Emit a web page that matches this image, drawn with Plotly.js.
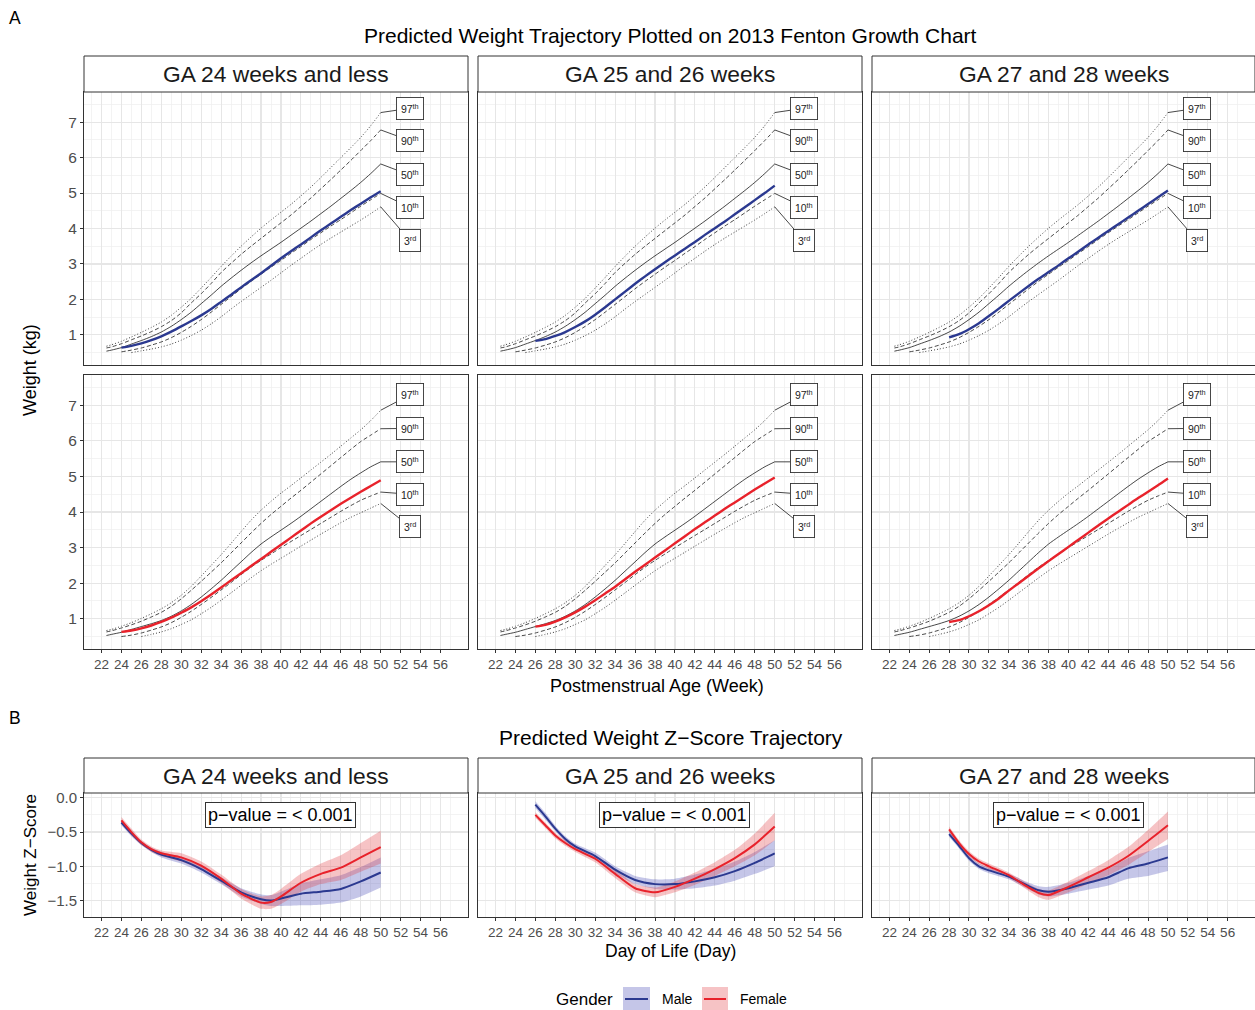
<!DOCTYPE html>
<html><head><meta charset="utf-8">
<script src="https://cdn.plot.ly/plotly-3.0.1.min.js"></script>
<style>html,body{margin:0;padding:0;background:#fff}#chart{width:1255px;height:1010px}</style>
</head><body><div id="chart"></div>
<script>
// ================= DATA =================
const panelNames = ["GA 24 weeks and less", "GA 25 and 26 weeks", "GA 27 and 28 weeks"];
const weekTicks = [22,24,26,28,30,32,34,36,38,40,42,44,46,48,50,52,54,56];
const weightTicks = [1,2,3,4,5,6,7];
const zTicks = [0,-0.5,-1,-1.5];
const zTickText = ["0.0","\u22120.5","\u22121.0","\u22121.5"];
const pctLabels = ["97<sup>th</sup>","90<sup>th</sup>","50<sup>th</sup>","10<sup>th</sup>","3<sup>rd</sup>"];

// Fenton 2013 percentiles (kg) by postmenstrual week
const fentonWeeks = [22.5,23,24,25,26,27,28,29,30,31,32,33,34,35,36,37,38,39,40,41,42,43,44,45,46,47,48,49,50];
const boysP97 = [0.68,0.72,0.82,0.94,1.07,1.21,1.36,1.55,1.78,2.03,2.32,2.62,2.93,3.22,3.50,3.76,4.01,4.24,4.46,4.68,4.92,5.17,5.44,5.72,6.00,6.28,6.57,6.90,7.27];
const boysP90 = [0.63,0.66,0.75,0.86,0.97,1.09,1.23,1.40,1.62,1.90,2.16,2.45,2.76,3.02,3.27,3.50,3.72,3.94,4.16,4.38,4.62,4.86,5.12,5.38,5.65,5.92,6.20,6.48,6.78];
const boysP50 = [0.54,0.57,0.64,0.74,0.84,0.95,1.08,1.24,1.43,1.64,1.88,2.12,2.37,2.60,2.82,3.03,3.23,3.42,3.61,3.81,4.01,4.21,4.42,4.63,4.85,5.07,5.30,5.55,5.82];
const boysP10 = [null,null,0.52,0.57,0.63,0.71,0.80,0.92,1.07,1.24,1.43,1.64,1.86,2.08,2.30,2.51,2.71,2.91,3.10,3.30,3.49,3.69,3.88,4.07,4.25,4.44,4.63,4.81,4.99];
const boysP3  = [null,null,null,0.50,0.55,0.60,0.66,0.74,0.85,0.98,1.13,1.31,1.51,1.73,1.94,2.14,2.34,2.54,2.75,2.96,3.16,3.36,3.55,3.73,3.90,4.07,4.24,4.42,4.61];
const girlsP97 = [0.67,0.70,0.79,0.89,1.01,1.14,1.28,1.45,1.66,1.91,2.20,2.50,2.80,3.12,3.45,3.77,4.05,4.30,4.53,4.74,4.96,5.18,5.40,5.62,5.85,6.08,6.31,6.57,6.86];
const girlsP90 = [0.63,0.66,0.74,0.83,0.93,1.05,1.18,1.35,1.56,1.80,2.05,2.31,2.57,2.85,3.13,3.41,3.68,3.93,4.16,4.39,4.61,4.84,5.07,5.30,5.53,5.76,5.98,6.16,6.34];
const girlsP50 = [0.53,0.56,0.62,0.70,0.78,0.86,0.95,1.07,1.22,1.40,1.61,1.84,2.08,2.34,2.60,2.86,3.10,3.30,3.49,3.68,3.88,4.09,4.30,4.51,4.72,4.92,5.10,5.27,5.41];
const girlsP10 = [null,null,0.50,0.54,0.60,0.68,0.77,0.89,1.04,1.21,1.40,1.60,1.81,2.02,2.24,2.45,2.64,2.82,3.00,3.17,3.34,3.51,3.68,3.85,4.02,4.18,4.33,4.45,4.56];
const girlsP3  = [null,null,null,null,0.50,0.56,0.63,0.72,0.84,0.97,1.14,1.32,1.52,1.73,1.94,2.15,2.35,2.53,2.70,2.87,3.04,3.21,3.38,3.54,3.70,3.85,3.98,4.11,4.24];

// Predicted weight (kg), aligned with fentonWeeks
const maleGA24 = [null,null,0.64,0.69,0.76,0.85,0.96,1.09,1.24,1.39,1.55,1.73,1.93,2.13,2.34,2.54,2.74,2.95,3.16,3.36,3.55,3.75,3.95,4.14,4.33,4.52,4.70,4.88,5.05];
const maleGA26 = [null,null,null,null,0.83,0.88,0.97,1.08,1.22,1.38,1.57,1.78,2.00,2.22,2.44,2.65,2.85,3.05,3.24,3.43,3.62,3.82,4.01,4.20,4.40,4.60,4.80,5.00,5.21];
const maleGA28 = [null,null,null,null,null,null,0.93,1.02,1.16,1.33,1.53,1.74,1.96,2.17,2.38,2.58,2.77,2.96,3.16,3.35,3.55,3.74,3.93,4.12,4.31,4.50,4.69,4.88,5.07];
const femaleGA24 = [null,null,0.63,0.67,0.73,0.81,0.91,1.03,1.17,1.32,1.49,1.68,1.88,2.08,2.28,2.48,2.68,2.88,3.08,3.28,3.48,3.68,3.87,4.05,4.23,4.40,4.57,4.73,4.89];
const femaleGA26 = [null,null,null,null,0.78,0.83,0.92,1.04,1.18,1.34,1.52,1.71,1.90,2.11,2.32,2.52,2.72,2.92,3.12,3.32,3.52,3.71,3.90,4.09,4.27,4.45,4.63,4.80,4.97];
const femaleGA28 = [null,null,null,null,null,null,0.91,0.96,1.07,1.21,1.38,1.57,1.79,2.00,2.21,2.42,2.62,2.82,3.02,3.22,3.42,3.62,3.82,4.01,4.20,4.39,4.57,4.75,4.94];

// Z-score trajectories
const zWeeks24 = [24,25,26,27,28,30,32,34,36,38,39,40,42,44,46,48,50];
const zMale24   = [-0.36,-0.52,-0.66,-0.76,-0.83,-0.91,-1.04,-1.21,-1.38,-1.48,-1.50,-1.47,-1.40,-1.37,-1.33,-1.22,-1.09];
const zMale24Hi = [-0.32,-0.48,-0.63,-0.73,-0.79,-0.86,-0.99,-1.16,-1.32,-1.41,-1.42,-1.37,-1.25,-1.19,-1.13,-1.01,-0.87];
const zMale24Lo = [-0.40,-0.56,-0.69,-0.79,-0.87,-0.96,-1.09,-1.26,-1.44,-1.55,-1.58,-1.58,-1.57,-1.56,-1.53,-1.44,-1.31];
const zFemale24   = [-0.33,-0.50,-0.65,-0.75,-0.81,-0.87,-0.99,-1.18,-1.40,-1.53,-1.52,-1.44,-1.24,-1.11,-1.02,-0.87,-0.72];
const zFemale24Hi = [-0.28,-0.45,-0.61,-0.71,-0.77,-0.81,-0.93,-1.12,-1.33,-1.44,-1.42,-1.33,-1.11,-0.96,-0.84,-0.66,-0.48];
const zFemale24Lo = [-0.38,-0.55,-0.69,-0.79,-0.85,-0.93,-1.05,-1.24,-1.47,-1.62,-1.62,-1.55,-1.37,-1.26,-1.20,-1.08,-0.96];

const zWeeks26 = [26,27,28,29,30,32,34,36,38,40,42,44,46,48,50];
const zMale26   = [-0.10,-0.27,-0.45,-0.60,-0.71,-0.85,-1.05,-1.20,-1.26,-1.26,-1.22,-1.16,-1.07,-0.95,-0.81];
const zMale26Hi = [-0.05,-0.22,-0.41,-0.56,-0.67,-0.80,-1.00,-1.14,-1.19,-1.18,-1.12,-1.04,-0.93,-0.79,-0.62];
const zMale26Lo = [-0.15,-0.32,-0.49,-0.64,-0.75,-0.90,-1.10,-1.26,-1.33,-1.34,-1.32,-1.28,-1.21,-1.11,-1.00];
const zFemale26   = [-0.25,-0.40,-0.55,-0.66,-0.75,-0.89,-1.11,-1.32,-1.38,-1.30,-1.18,-1.04,-0.88,-0.68,-0.42];
const zFemale26Hi = [-0.21,-0.36,-0.51,-0.62,-0.71,-0.84,-1.05,-1.26,-1.31,-1.22,-1.09,-0.94,-0.76,-0.52,-0.22];
const zFemale26Lo = [-0.29,-0.44,-0.59,-0.70,-0.79,-0.94,-1.17,-1.38,-1.45,-1.38,-1.27,-1.14,-1.00,-0.84,-0.62];

const zWeeks28 = [28,29,30,31,32,34,36,37,38,40,42,44,46,48,50];
const zMale28   = [-0.53,-0.70,-0.88,-1.00,-1.06,-1.15,-1.29,-1.35,-1.37,-1.32,-1.24,-1.16,-1.03,-0.96,-0.87];
const zMale28Hi = [-0.49,-0.66,-0.84,-0.96,-1.02,-1.11,-1.24,-1.29,-1.30,-1.24,-1.14,-1.04,-0.88,-0.78,-0.68];
const zMale28Lo = [-0.57,-0.74,-0.92,-1.04,-1.10,-1.19,-1.34,-1.41,-1.44,-1.40,-1.34,-1.28,-1.18,-1.14,-1.07];
const zFemale28   = [-0.46,-0.66,-0.82,-0.93,-1.00,-1.13,-1.31,-1.39,-1.42,-1.30,-1.16,-1.02,-0.85,-0.63,-0.40];
const zFemale28Hi = [-0.42,-0.62,-0.78,-0.89,-0.96,-1.09,-1.26,-1.33,-1.35,-1.22,-1.07,-0.91,-0.72,-0.47,-0.20];
const zFemale28Lo = [-0.50,-0.70,-0.86,-0.97,-1.04,-1.17,-1.36,-1.45,-1.49,-1.38,-1.25,-1.13,-0.98,-0.79,-0.60];

// ================= STYLE / LAYOUT =================
const FONT = "Liberation Sans, Arial, Helvetica, sans-serif";
const W = 1255, H = 1010;
const BLUE = "#2B3990", RED = "#E8222B";
const BLUE_FILL = "rgba(62,65,178,0.30)", RED_FILL = "rgba(225,55,62,0.30)";
const colPx = [[84,468],[478,862],[872,1255]];
const rowA = [[92,365],[375,649]];
const rowB = [793,917];
const boysLabelY = [7.39,6.48,5.51,4.60,3.67];
const girlsLabelY = [7.29,6.35,5.41,4.50,3.59];
const labelX = 52.9;
const pctDash = ["1px,2px","4px,2.5px","solid","4px,2.5px","1px,2px"];

const px2x = p => p / W;
const px2y = p => 1 - p / H;
const sfx = i => (i === 1 ? "" : String(i));

const minorWeeks = []; for (let w = 21; w <= 57; w += 2) minorWeeks.push(w);
const minorWeight = []; for (let v = 0.5; v <= 7.5; v += 1) minorWeight.push(v);

const layout = {
  width: W, height: H, margin: {l:0, r:0, t:0, b:0},
  paper_bgcolor: "white", plot_bgcolor: "white", showlegend: false,
  font: {family: FONT, color: "#000"},
  annotations: [], shapes: []
};
const traces = [];
const GRID = "#E6E6E6", MINOR = "#EEEEEE";

function xAxis(col, showLabels) {
  return {
    domain: [px2x(colPx[col][0]), px2x(colPx[col][1])],
    range: [20.25, 58.75], tickmode: "array", tickvals: weekTicks,
    showticklabels: showLabels, ticks: showLabels ? "outside" : "", ticklen: 3, tickwidth: 1, tickcolor: "#333",
    tickfont: {size: 13.5, color: "#4D4D4D", family: FONT},
    showgrid: true, gridcolor: GRID, gridwidth: 1.1,
    minor: {tickmode: "array", tickvals: minorWeeks, showgrid: true, gridcolor: MINOR, gridwidth: 0.7, ticks: ""},
    showline: true, mirror: true, linecolor: "#333", linewidth: 1, zeroline: false, fixedrange: true
  };
}
function yAxisA(col, rowIdx) {
  return {
    domain: [px2y(rowA[rowIdx][1]), px2y(rowA[rowIdx][0])],
    range: [0.15, 7.85], tickmode: "array", tickvals: weightTicks,
    showticklabels: col === 0, ticks: col === 0 ? "outside" : "", ticklen: 3, tickcolor: "#333",
    tickfont: {size: 15.5, color: "#4D4D4D", family: FONT},
    showgrid: true, gridcolor: GRID, gridwidth: 1.1,
    minor: {tickmode: "array", tickvals: minorWeight, showgrid: true, gridcolor: MINOR, gridwidth: 0.7, ticks: ""},
    showline: true, mirror: true, linecolor: "#333", linewidth: 1, zeroline: false, fixedrange: true
  };
}
function yAxisB(col) {
  return {
    domain: [px2y(rowB[1]), px2y(rowB[0])],
    range: [-1.74, 0.07], tickmode: "array", tickvals: zTicks, ticktext: zTickText,
    showticklabels: col === 0, ticks: col === 0 ? "outside" : "", ticklen: 3, tickcolor: "#333",
    tickfont: {size: 15, color: "#4D4D4D", family: FONT},
    showgrid: true, gridcolor: GRID, gridwidth: 1.1,
    minor: {tickmode: "array", tickvals: [-0.25,-0.75,-1.25], showgrid: true, gridcolor: MINOR, gridwidth: 0.7, ticks: ""},
    showline: true, mirror: true, linecolor: "#333", linewidth: 1, zeroline: false, fixedrange: true
  };
}

// ----- Panel A -----
const sexes = [
  {pct: [boysP97, boysP90, boysP50, boysP10, boysP3], preds: [maleGA24, maleGA26, maleGA28], color: BLUE, labelY: boysLabelY},
  {pct: [girlsP97, girlsP90, girlsP50, girlsP10, girlsP3], preds: [femaleGA24, femaleGA26, femaleGA28], color: RED, labelY: girlsLabelY}
];
sexes.forEach((sx, r) => {
  for (let c = 0; c < 3; c++) {
    const i = r * 3 + c + 1;
    const xa = "x" + sfx(i), ya = "y" + sfx(i);
    layout["xaxis" + sfx(i)] = Object.assign(xAxis(c, r === 1), {anchor: ya});
    layout["yaxis" + sfx(i)] = Object.assign(yAxisA(c, r), {anchor: xa});
    sx.pct.forEach((arr, k) => {
      traces.push({x: fentonWeeks, y: arr, xaxis: xa, yaxis: ya, mode: "lines", hoverinfo: "skip",
        line: {color: "#262626", width: 0.85, dash: pctDash[k], shape: "spline", smoothing: 0.6}});
      layout.annotations.push({xref: xa, yref: ya, axref: xa, ayref: ya,
        x: fentonWeeks[fentonWeeks.length - 1], y: arr[arr.length - 1], ax: labelX, ay: sx.labelY[k],
        text: pctLabels[k], showarrow: true, arrowhead: 0, arrowwidth: 0.9, arrowcolor: "#333", standoff: 0,
        bordercolor: "#333", borderwidth: 0.9, borderpad: 4, bgcolor: "white",
        font: {size: 10.5, color: "#222", family: FONT}});
    });
    traces.push({x: fentonWeeks, y: sx.preds[c], xaxis: xa, yaxis: ya, mode: "lines", hoverinfo: "skip",
      line: {color: sx.color, width: 2.4, shape: "spline", smoothing: 0.6}});
  }
});

// ----- Panel B -----
const zPanels = [
  {w: zWeeks24, m: zMale24, mh: zMale24Hi, ml: zMale24Lo, f: zFemale24, fh: zFemale24Hi, fl: zFemale24Lo},
  {w: zWeeks26, m: zMale26, mh: zMale26Hi, ml: zMale26Lo, f: zFemale26, fh: zFemale26Hi, fl: zFemale26Lo},
  {w: zWeeks28, m: zMale28, mh: zMale28Hi, ml: zMale28Lo, f: zFemale28, fh: zFemale28Hi, fl: zFemale28Lo}
];
zPanels.forEach((p, c) => {
  const i = 7 + c;
  const xa = "x" + i, ya = "y" + i;
  layout["xaxis" + i] = Object.assign(xAxis(c, true), {anchor: ya});
  layout["yaxis" + i] = Object.assign(yAxisB(c), {anchor: xa});
  const band = (hi, lo, fill) => {
    traces.push({x: p.w, y: hi, xaxis: xa, yaxis: ya, mode: "lines", line: {width: 0, shape: "spline", smoothing: 0.6}, hoverinfo: "skip"});
    traces.push({x: p.w, y: lo, xaxis: xa, yaxis: ya, mode: "lines", line: {width: 0, shape: "spline", smoothing: 0.6}, fill: "tonexty", fillcolor: fill, hoverinfo: "skip"});
  };
  band(p.mh, p.ml, BLUE_FILL);
  band(p.fh, p.fl, RED_FILL);
  traces.push({x: p.w, y: p.m, xaxis: xa, yaxis: ya, mode: "lines", line: {color: BLUE, width: 2, shape: "spline", smoothing: 0.6}, hoverinfo: "skip"});
  traces.push({x: p.w, y: p.f, xaxis: xa, yaxis: ya, mode: "lines", line: {color: RED, width: 2, shape: "spline", smoothing: 0.6}, hoverinfo: "skip"});
  layout.annotations.push({xref: xa, yref: ya, x: 40, y: -0.25, showarrow: false,
    text: "p\u2212value = < 0.001", bordercolor: "#333", borderwidth: 1, borderpad: 2, bgcolor: "white",
    font: {size: 18, color: "#000", family: FONT}});
});

// ----- strips -----
function strip(top, bot, c) {
  layout.shapes.push({type: "rect", xref: "paper", yref: "paper",
    x0: px2x(colPx[c][0]), x1: px2x(colPx[c][1]), y0: px2y(bot), y1: px2y(top),
    fillcolor: "white", line: {color: "#333", width: 1}});
  layout.annotations.push({xref: "paper", yref: "paper", x: px2x((colPx[c][0] + colPx[c][1]) / 2), y: px2y((top + bot) / 2),
    text: panelNames[c], showarrow: false, font: {size: 22.8, color: "#1A1A1A", family: FONT}, xanchor: "center", yanchor: "middle"});
}
for (let c = 0; c < 3; c++) { strip(56, 92, c); strip(758, 793, c); }

// ----- titles -----
function txt(text, x, y, size, extra) {
  layout.annotations.push(Object.assign({xref: "paper", yref: "paper", x: px2x(x), y: px2y(y), text: text, showarrow: false,
    xanchor: "center", yanchor: "middle", font: {size: size, color: "#000", family: FONT}}, extra || {}));
}
txt("A", 15, 18, 17.5);
txt("B", 15, 718, 17.5);
txt("Predicted Weight Trajectory Plotted on 2013 Fenton Growth Chart", 670.5, 35, 21);
txt("Predicted Weight Z\u2212Score Trajectory", 670.5, 737, 21);
txt("Postmenstrual Age (Week)", 656.5, 686, 18);
txt("Day of Life (Day)", 670.5, 951, 17.5);
txt("Weight (kg)", 30, 370, 18, {textangle: -90});
txt("Weight Z\u2212Score", 30, 855, 17, {textangle: -90});

// ----- legend (drawn) -----
txt("Gender", 584.5, 999, 17);
function legendKey(x0, x1, fill, color) {
  layout.shapes.push({type: "rect", xref: "paper", yref: "paper", x0: px2x(x0), x1: px2x(x1), y0: px2y(1010), y1: px2y(987),
    fillcolor: fill, line: {width: 0}});
  layout.shapes.push({type: "line", xref: "paper", yref: "paper", x0: px2x(x0 + 2), x1: px2x(x1 - 2), y0: px2y(999), y1: px2y(999),
    line: {color: color, width: 2}});
}
legendKey(623, 650, BLUE_FILL, BLUE);
legendKey(702, 728, RED_FILL, RED);
txt("Male", 660, 999, 14, {xanchor: "left"});
txt("Female", 738, 999, 14, {xanchor: "left"});

Plotly.newPlot("chart", traces, layout, {staticPlot: true, displayModeBar: false});
</script>
</body></html>
